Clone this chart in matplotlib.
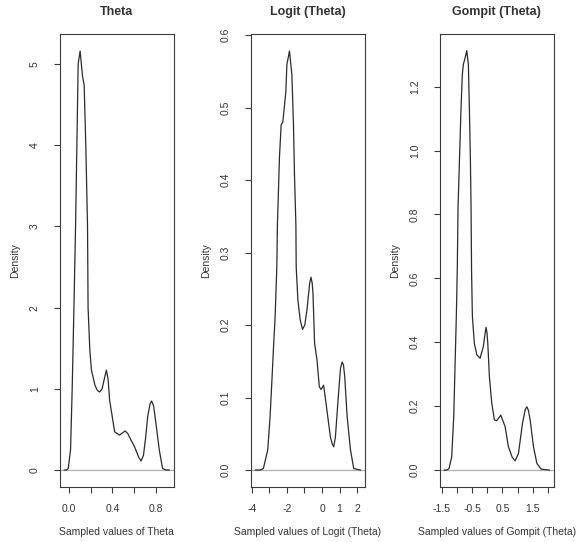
import matplotlib
matplotlib.use("Agg")
import matplotlib.pyplot as plt

plt.rcParams["font.family"] = ["Liberation Sans", "DejaVu Sans"]

# ── values (x, density) ───────────────────────────────────────────────────
theta_x = [-0.043, -0.02, -0.006, 0.015, 0.030, 0.046, 0.061, 0.073, 0.085, 0.103,
           0.125, 0.140, 0.155, 0.171, 0.176, 0.192, 0.207, 0.240, 0.262, 0.283,
           0.305, 0.325, 0.344, 0.360, 0.374, 0.420, 0.465, 0.495, 0.517, 0.540,
           0.570, 0.602, 0.640, 0.663, 0.685, 0.705, 0.724, 0.745, 0.760, 0.778,
           0.800, 0.830, 0.860, 0.890, 0.922]
theta_y = [0.0, 0.0, 0.02, 0.25, 1.00, 2.00, 3.00, 4.00, 5.00, 5.16,
           4.85, 4.74, 4.00, 3.00, 2.00, 1.48, 1.23, 1.04, 0.98, 0.96,
           1.00, 1.12, 1.23, 1.12, 0.86, 0.47, 0.43, 0.46, 0.48, 0.45,
           0.37, 0.29, 0.16, 0.11, 0.18, 0.40, 0.66, 0.81, 0.85, 0.79,
           0.57, 0.25, 0.02, 0.0, 0.0]

logit_x = [-3.80, -3.526, -3.337, -3.086, -2.954, -2.857, -2.766, -2.669, -2.571, -2.537,
           -2.480, -2.423, -2.326, -2.229, -2.057, -2.000, -1.851, -1.714, -1.623, -1.566,
           -1.486, -1.469, -1.371, -1.240, -1.109, -0.980, -0.857, -0.700, -0.629, -0.560,
           -0.514, -0.423, -0.286, -0.154, -0.057, 0.091, 0.229, 0.474, 0.580, 0.663,
           0.760, 0.914, 1.050, 1.143, 1.220, 1.291, 1.429, 1.617, 1.806, 2.18]
logit_y = [0.0, 0.0, 0.002, 0.028, 0.074, 0.120, 0.166, 0.211, 0.280, 0.338,
           0.384, 0.430, 0.476, 0.480, 0.522, 0.559, 0.578, 0.545, 0.476, 0.407,
           0.338, 0.280, 0.234, 0.207, 0.194, 0.200, 0.221, 0.258, 0.266, 0.258,
           0.244, 0.175, 0.152, 0.115, 0.111, 0.117, 0.092, 0.046, 0.036, 0.032,
           0.045, 0.097, 0.140, 0.149, 0.145, 0.129, 0.074, 0.028, 0.002, 0.0]

gompit_x = [-1.418, -1.335, -1.259, -1.170, -1.104, -1.062, -1.019, -0.986, -0.963, -0.930,
            -0.897, -0.864, -0.821, -0.788, -0.730, -0.676, -0.623, -0.590, -0.557, -0.534,
            -0.518, -0.491, -0.426, -0.346, -0.238, -0.129, -0.070, -0.040, -0.010, 0.016,
            0.069, 0.148, 0.234, 0.313, 0.445, 0.586, 0.695, 0.820, 0.916, 1.025,
            1.157, 1.250, 1.302, 1.350, 1.410, 1.519, 1.631, 1.773, 2.04]
gompit_y = [0.0, 0.0, 0.005, 0.042, 0.167, 0.324, 0.481, 0.637, 0.820, 0.925,
            1.029, 1.134, 1.238, 1.270, 1.290, 1.313, 1.270, 1.134, 0.977, 0.820,
            0.627, 0.481, 0.397, 0.361, 0.350, 0.387, 0.430, 0.447, 0.430, 0.397,
            0.292, 0.209, 0.157, 0.155, 0.172, 0.136, 0.073, 0.040, 0.029, 0.052,
            0.146, 0.190, 0.198, 0.188, 0.157, 0.073, 0.021, 0.003, 0.0]

titles = ["Theta", "Logit (Theta)", "Gompit (Theta)"]
xlabels = ["Sampled values of Theta", "Sampled values of Logit (Theta)",
           "Sampled values of Gompit (Theta)"]

theta_xticks = [0.0, 0.2, 0.4, 0.6, 0.8]
theta_xlabels = ["0.0", "", "0.4", "", "0.8"]
logit_xticks = [-4, -3, -2, -1, 0, 1, 2]
logit_xlabels = ["-4", "", "-2", "", "0", "1", "2"]
gompit_xticks = [-1.5, -1.0, -0.5, 0.0, 0.5, 1.0, 1.5, 2.0]
gompit_xlabels = ["-1.5", "", "-0.5", "", "0.5", "", "1.5", ""]

theta_yticks = [0, 1, 2, 3, 4, 5]
logit_yticks = [0.0, 0.1, 0.2, 0.3, 0.4, 0.5, 0.6]
gompit_yticks = [0.0, 0.2, 0.4, 0.6, 0.8, 1.0, 1.2]

# ── layout (pixels of a 583x542 canvas) ──────────────────────────────────
W, H = 583, 542
fig = plt.figure(figsize=(W / 100, H / 100), dpi=100)
fig.patch.set_facecolor("white")

panels = [
    (60.0, theta_x, theta_y, (-0.082, 0.961), (-0.206, 5.366),
     theta_xticks, theta_xlabels, theta_yticks, ["0", "1", "2", "3", "4", "5"]),
    (251.0, logit_x, logit_y, (-4.04, 2.417), (-0.023, 0.601),
     logit_xticks, logit_xlabels, logit_yticks, [f"{v:.1f}" for v in logit_yticks]),
    (440.0, gompit_x, gompit_y, (-1.556, 2.178), (-0.052, 1.364),
     gompit_xticks, gompit_xlabels, gompit_yticks, [f"{v:.1f}" for v in gompit_yticks]),
]
box_w, box_top, box_bot = 113.5, 34.3, 486.7
txt = "#333333"

for i, (left, xs, ys, xlim, ylim, xt, xtl, yt, ytl) in enumerate(panels):
    ax = fig.add_axes([left / W, (H - box_bot) / H, box_w / W, (box_bot - box_top) / H])
    ax.axhline(0, color="#b0b0b0", lw=0.9, zorder=1)
    ax.plot(xs, ys, color="#2b2b2b", lw=0.9, zorder=2)
    ax.set_xlim(*xlim)
    ax.set_ylim(*ylim)
    ax.set_xticks(xt)
    ax.set_xticklabels(xtl)
    ax.set_yticks(yt)
    ax.set_yticklabels(ytl, rotation=90, va="center")
    for sp in ax.spines.values():
        sp.set_color("#3a3a3a")
        sp.set_linewidth(0.8)
    ax.tick_params(axis="both", direction="out", length=4.5, width=0.8,
                   color="#3a3a3a", labelcolor=txt, labelsize=7.5)
    ax.tick_params(axis="x", pad=8)
    ax.tick_params(axis="y", pad=10)
    ax.set_title(titles[i], fontsize=9, fontweight="bold", color=txt, pad=14)
    ax.set_xlabel(xlabels[i], fontsize=7.5, color=txt)
    ax.xaxis.set_label_coords(0.5, -40 / (box_bot - box_top), transform=ax.transAxes)
    ax.set_ylabel("Density", fontsize=7.5, color=txt)
    ax.yaxis.set_label_coords(-40 / box_w, 0.5, transform=ax.transAxes)

fig.savefig("out.png", dpi=100)
